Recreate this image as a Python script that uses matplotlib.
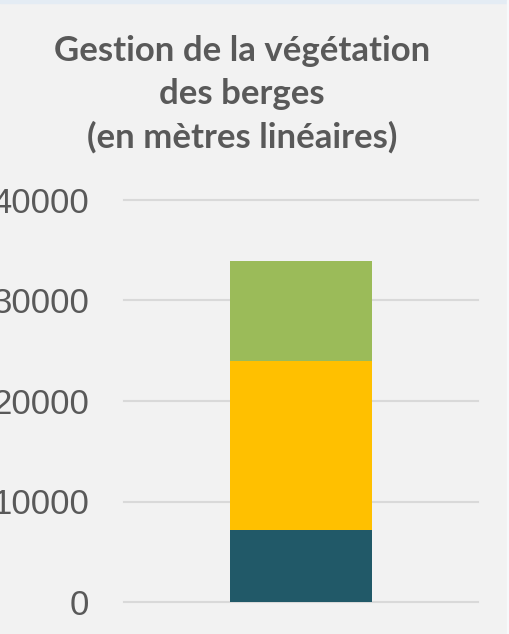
import matplotlib.pyplot as plt
from matplotlib.patches import Rectangle

# stacked bar: gestion de la végétation des berges (mètres linéaires)
category = ['']
bottom_seg = [7200]    # dark teal
middle_seg = [16800]   # yellow
top_seg = [9900]       # green
yticks = [0, 10000, 20000, 30000, 40000]

grey = '#595959'
bg = '#f2f2f2'

fig = plt.figure(figsize=(5.10, 6.34), dpi=100, facecolor=bg)

# screenshot borders (top strip, right strip)
fig.patches.append(Rectangle((0, 1 - 3 / 634), 1, 3 / 634, transform=fig.transFigure,
                             color='#e4ecf4', zorder=0))
fig.patches.append(Rectangle((1 - 3 / 510, 0), 3 / 510, 1, transform=fig.transFigure,
                             color='#f7f9fb', zorder=0))

ax = fig.add_axes([124 / 510, 32 / 634, 354 / 510, 402 / 634])
ax.set_facecolor(bg)

ax.bar(category, bottom_seg, width=0.4, color='#215968', zorder=3)
ax.bar(category, middle_seg, width=0.4, bottom=bottom_seg, color='#ffc000', zorder=3)
base2 = [a + b for a, b in zip(bottom_seg, middle_seg)]
ax.bar(category, top_seg, width=0.4, bottom=base2, color='#9bbb59', zorder=3)

ax.set_xlim(-0.5, 0.5)
ax.set_ylim(0, 40000)
ax.set_yticks(yticks)
ax.set_yticklabels([str(t) for t in yticks], fontsize=25, color=grey,
                   family='Liberation Sans')
ax.tick_params(axis='y', length=0, pad=25)
ax.tick_params(axis='x', length=0, labelbottom=False)
ax.grid(axis='y', color='#d9d9d9', linewidth=1.5, zorder=0, clip_on=False)
for s in ax.spines.values():
    s.set_visible(False)

title_lines = ['Gestion de la végétation', 'des berges', '(en mètres linéaires)']
for i, line in enumerate(title_lines):
    fig.text(242 / 510, 1 - (61 + 43.5 * i) / 634, line, ha='center', va='baseline',
             fontsize=25, fontweight='bold', color=grey, family='Lato')

fig.savefig('out.png', dpi=100, facecolor=bg)
